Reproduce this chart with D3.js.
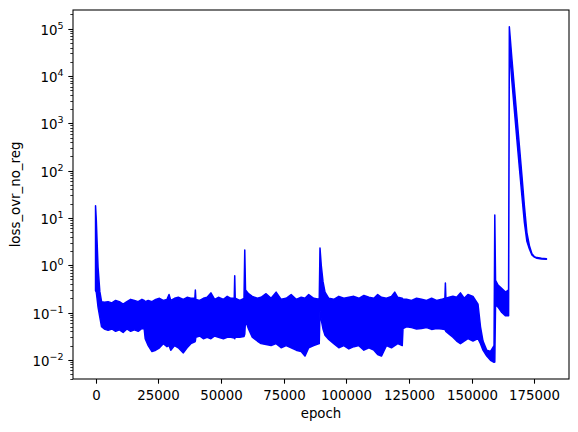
<!DOCTYPE html>
<html><head><meta charset="utf-8">
<script src="https://cdn.jsdelivr.net/npm/d3@7"></script>
<style>
body{margin:0;background:#fff;}
text{font-family:"DejaVu Sans",sans-serif;fill:#000;}
</style></head>
<body><svg id="chart" width="578" height="432"></svg>
<script>
// epoch sample points with upper and lower envelope of the noisy loss curve
const epochs = [0,300,600,1000,1700,2400,3500,5000,6500,8000,9500,11000,12500,14000,15500,17000,18500,19400,19800,21000,22500,24000,25500,27000,28500,29300,30000,31500,33000,35000,36500,38000,39600,39800,40000,41500,43000,44500,46000,47500,49000,51000,52500,54000,55300,55500,55700,57500,59200,59500,59800,61000,62500,64500,66000,68000,70000,72000,74000,76000,78000,80000,82000,83500,85000,87000,89200,89500,90000,90700,91500,93000,95000,97000,99000,101000,103000,105000,107000,109000,111000,112500,114000,116000,118000,119300,120500,122300,122600,124000,126000,128000,130000,132000,134000,136000,138000,139300,139500,139700,141000,142500,144000,145500,147000,148500,150500,152500,153500,154500,156000,157500,158900,159200,159500,160500,162000,163500,164700,165000,166000,167000,168000,169000,170000,171000,172000,173000,174000,175000,176000,177800,179800];
const upperLoss = [18,9,3.3,0.9,0.28,0.17,0.165,0.17,0.16,0.18,0.17,0.15,0.17,0.19,0.18,0.17,0.19,0.18,0.17,0.18,0.17,0.19,0.2,0.18,0.19,0.24,0.18,0.2,0.21,0.19,0.21,0.2,0.2,0.3,0.19,0.18,0.2,0.21,0.26,0.19,0.21,0.19,0.22,0.2,0.2,0.6,0.2,0.18,0.2,2.1,0.3,0.25,0.22,0.2,0.21,0.25,0.2,0.27,0.19,0.2,0.24,0.19,0.21,0.2,0.24,0.2,0.19,2.3,1.0,0.45,0.27,0.2,0.19,0.22,0.2,0.21,0.22,0.2,0.23,0.21,0.2,0.24,0.21,0.2,0.22,0.27,0.21,0.2,0.19,0.19,0.18,0.2,0.19,0.18,0.2,0.18,0.19,0.2,0.42,0.2,0.21,0.22,0.21,0.26,0.2,0.24,0.22,0.15,0.05,0.025,0.016,0.015,0.02,11.5,0.48,0.38,0.32,0.27,0.3,110000,24000,5750,1400,340,81,18,4.9,2.6,1.75,1.52,1.45,1.4,1.37];
const lowerLoss = [0.29,0.27,0.2,0.13,0.08,0.05,0.045,0.042,0.045,0.04,0.043,0.038,0.045,0.04,0.043,0.04,0.046,0.045,0.028,0.02,0.015,0.016,0.018,0.022,0.019,0.02,0.016,0.02,0.018,0.014,0.018,0.022,0.024,0.025,0.03,0.032,0.028,0.03,0.028,0.032,0.03,0.028,0.03,0.03,0.029,0.028,0.03,0.03,0.031,0.035,0.068,0.045,0.03,0.025,0.022,0.021,0.02,0.022,0.018,0.02,0.018,0.016,0.015,0.012,0.018,0.02,0.022,0.11,0.07,0.045,0.033,0.027,0.022,0.018,0.02,0.017,0.019,0.02,0.016,0.018,0.016,0.013,0.012,0.02,0.018,0.02,0.022,0.02,0.046,0.05,0.048,0.045,0.046,0.048,0.044,0.046,0.045,0.044,0.042,0.04,0.035,0.03,0.025,0.022,0.025,0.028,0.025,0.028,0.022,0.016,0.012,0.0098,0.0089,0.009,0.15,0.13,0.1,0.085,0.085,40000,8000,1900,460,115,30,8,3.2,2.2,1.65,1.48,1.4,1.36,1.34];

const xTicks = [0,25000,50000,75000,100000,125000,150000,175000];
const yExponents = [-2,-1,0,1,2,3,4,5];
const xLabel = "epoch";
const yLabel = "loss_ovr_no_reg";

const svg = d3.select("#chart");
const L = 73, R = 569, T = 10, B = 379;
const xMin = d3.min(epochs), xMax = d3.max(epochs);
const xPad = (xMax - xMin) * 0.05;
const x = d3.scaleLinear().domain([xMin - xPad, xMax + xPad]).range([L, R]);
const lmin = Math.log10(d3.min(lowerLoss)), lmax = Math.log10(d3.max(upperLoss));
const lPad = (lmax - lmin) * 0.05;
const y = d3.scaleLog().domain([Math.pow(10, lmin - lPad), Math.pow(10, lmax + lPad)]).range([B, T]);

svg.append("defs").append("clipPath").attr("id","clip")
  .append("rect").attr("x",L).attr("y",T).attr("width",R-L).attr("height",B-T);

const data = epochs.map((e,i)=>({e, u: upperLoss[i], l: lowerLoss[i]}));
const area = d3.area().x(d=>x(d.e)).y0(d=>y(d.l)).y1(d=>y(d.u));
svg.append("path").datum(data).attr("clip-path","url(#clip)")
  .attr("d", area).attr("fill","#0000ff").attr("stroke","#0000ff")
  .attr("stroke-width",1.5).attr("stroke-linejoin","round");

// x axis
const gx = svg.append("g");
xTicks.forEach(t=>{
  const px = Math.round(x(t)) + 0.5;
  gx.append("line").attr("x1",px).attr("x2",px).attr("y1",B).attr("y2",B+4.7).attr("stroke","#000").attr("stroke-width",1.07);
  gx.append("text").attr("x",px).attr("y",B+20.5).attr("text-anchor","middle").attr("font-size","13.33px").text(d3.format("d")(t));
});
// y axis
const gy = svg.append("g");
const [d0,d1] = y.domain();
for (let k=-4;k<=6;k++){
  for (let m=2;m<=9;m++){
    const v = m*Math.pow(10,k);
    if (v < d0 || v > d1) continue;
    const py = Math.round(y(v)) + 0.5;
    gy.append("line").attr("x1",L-2.7).attr("x2",L).attr("y1",py).attr("y2",py).attr("stroke","#000").attr("stroke-width",0.8);
  }
}
yExponents.forEach(k=>{
  const v = Math.pow(10,k);
  const py = Math.round(y(v)) + 0.5;
  gy.append("line").attr("x1",L-4.7).attr("x2",L).attr("y1",py).attr("y2",py).attr("stroke","#000").attr("stroke-width",1.07);
  const expStr = k < 0 ? "\u2212" + Math.abs(k) : String(k);
  const t = gy.append("text").attr("x",L-9.5).attr("y",py+5.5).attr("text-anchor","end").attr("font-size","13.33px");
  t.append("tspan").text("10");
  t.append("tspan").attr("font-size","9.5px").attr("dy",-6).text(expStr);
});

// frame
svg.append("rect").attr("x",L).attr("y",T).attr("width",R-L).attr("height",B-T)
  .attr("fill","none").attr("stroke","#000").attr("stroke-width",1.07);

svg.append("text").attr("x",(L+R)/2).attr("y",418).attr("text-anchor","middle").attr("font-size","13.33px").text(xLabel);
svg.append("text").attr("transform",`translate(20,${(T+B)/2}) rotate(-90)`).attr("text-anchor","middle").attr("font-size","13.33px").text(yLabel);
</script></body></html>
